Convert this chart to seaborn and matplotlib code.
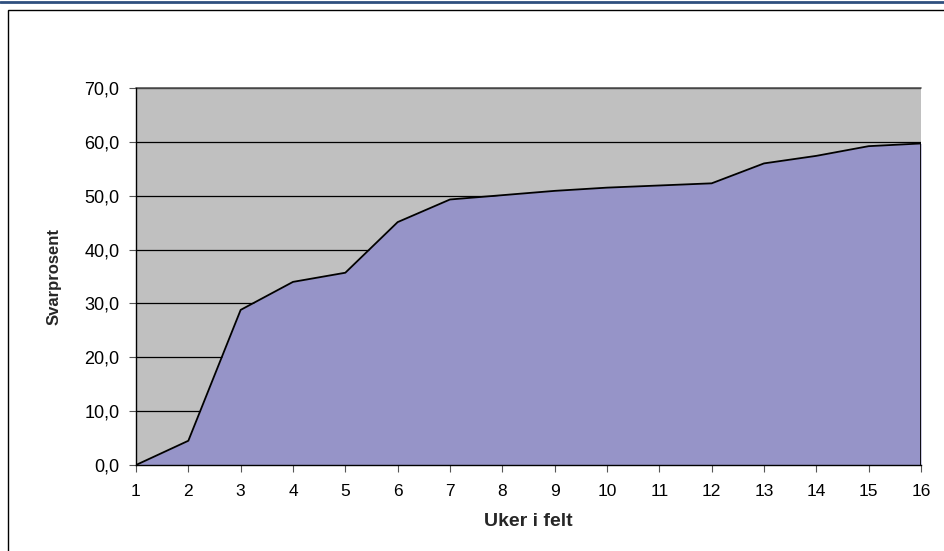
import matplotlib
matplotlib.use("Agg")
import matplotlib.pyplot as plt
import seaborn as sns
import pandas as pd
from matplotlib.patches import Rectangle

weeks = list(range(1, 17))
response_pct = [0.0, 4.5, 28.8, 34.0, 35.7, 45.1, 49.3, 50.1, 50.9, 51.5, 51.9, 52.3, 56.0, 57.4, 59.2, 59.7]
y_ticks = [0, 10, 20, 30, 40, 50, 60, 70]
y_tick_labels = ["0,0", "10,0", "20,0", "30,0", "40,0", "50,0", "60,0", "70,0"]

df = pd.DataFrame({"Uker i felt": weeks, "Svarprosent": response_pct})

sns.set_theme(style="white")
plt.rcParams["font.family"] = ["Liberation Sans", "DejaVu Sans"]

fig = plt.figure(figsize=(9.44, 5.51), dpi=100)
ax = fig.add_axes([136/944, 86/551, (921-136)/944, (465-88)/551])

# outer frame lines
fig.add_artist(plt.Line2D([0, 1], [1 - 1.5/551, 1 - 1.5/551], transform=fig.transFigure, color="#2f4f7f", lw=2))
fig.add_artist(Rectangle((8/944, -0.05), 1.0, 1 - 10/551 + 0.05, transform=fig.transFigure,
                         fill=False, edgecolor="black", lw=1.0))

ax.set_facecolor("#C0C0C0")
ax.fill_between(df["Uker i felt"], df["Svarprosent"], 0, color="#9694C8", zorder=2, lw=0)
for yv in y_ticks[1:]:
    ax.axhline(yv, color="black", lw=0.9, zorder=1)
sns.lineplot(data=df, x="Uker i felt", y="Svarprosent", color="black", lw=1.3, ax=ax, zorder=3)
ax.plot([16, 16], [0, response_pct[-1]], color="black", lw=1.3, zorder=3)

ax.set_xlim(1, 16)
ax.set_ylim(0, 70)
ax.set_xticks(weeks)
ax.set_xticklabels([str(w) for w in weeks])
ax.set_yticks(y_ticks)
ax.set_yticklabels(y_tick_labels)
ax.tick_params(axis="both", which="both", direction="out", length=5, width=0.8, color="#555555",
               labelcolor="black", bottom=True, left=True)
ax.tick_params(axis="x", pad=9, labelsize=12.5)
ax.tick_params(axis="y", pad=7, labelsize=13)

for s in ["top", "right"]:
    ax.spines[s].set_visible(False)
ax.spines["left"].set_color("black")
ax.spines["bottom"].set_color("black")
ax.spines["left"].set_linewidth(1.0)
ax.spines["bottom"].set_linewidth(1.0)
ax.axhline(70, color="#555555", lw=1.2, zorder=1, clip_on=False)

ax.set_xlabel("Uker i felt", fontsize=14, fontweight="bold", labelpad=10)
ax.set_ylabel("Svarprosent", fontsize=12, fontweight="bold", labelpad=16)

fig.savefig("out.png", dpi=100)
